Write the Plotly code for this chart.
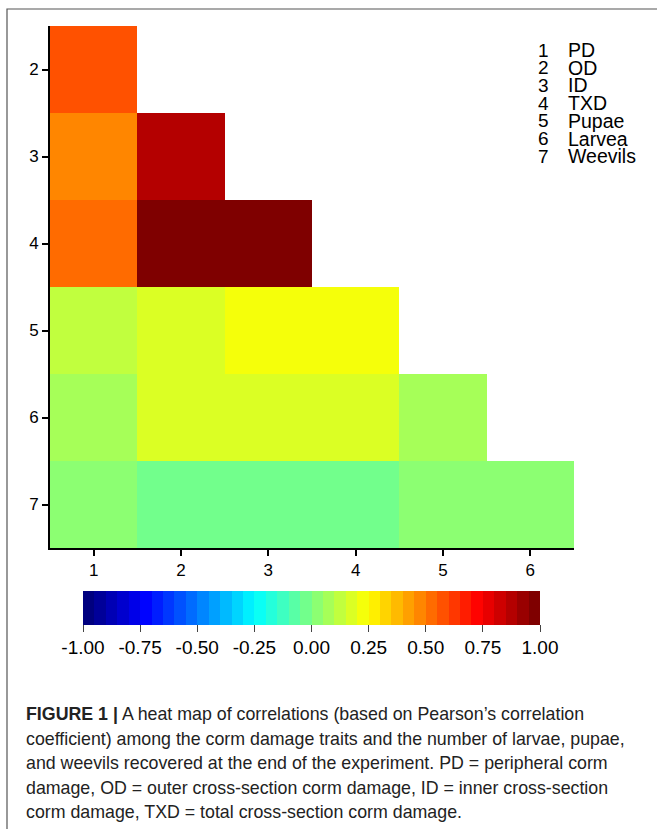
import plotly.graph_objects as go

# ---------------- data ----------------
col_ids = [1, 2, 3, 4, 5, 6]
row_ids = [2, 3, 4, 5, 6, 7]
row2 = [0.57]
row3 = [0.47, 0.87]
row4 = [0.52, 0.97, 0.97]
row5 = [0.12, 0.17, 0.22, 0.22]
row6 = [0.07, 0.17, 0.17, 0.17, 0.07]
row7 = [0.02, -0.03, -0.03, -0.03, 0.02, 0.02]
legend_nums = ["1", "2", "3", "4", "5", "6", "7"]
legend_names = ["PD", "OD", "ID", "TXD", "Pupae", "Larvea", "Weevils"]
cbar_vals = [-1.0, -0.75, -0.5, -0.25, 0.0, 0.25, 0.5, 0.75, 1.0]
cbar_text = ["-1.00", "-0.75", "-0.50", "-0.25", "0.00", "0.25", "0.50", "0.75", "1.00"]
caption_lines = [
    "<b>FIGURE 1 |</b> A heat map of correlations (based on Pearson\u2019s correlation",
    "coefficient) among the corm damage traits and the number of larvae, pupae,",
    "and weevils recovered at the end of the experiment. PD = peripheral corm",
    "damage, OD = outer cross-section corm damage, ID = inner cross-section",
    "corm damage, TXD = total cross-section corm damage.",
]

rows_vals = [row2, row3, row4, row5, row6, row7]
z = [r + [None] * (len(col_ids) - len(r)) for r in rows_vals]

# ---------------- discrete jet colour scale (40 bins) ----------------
anchors = [(0, 0, 127), (0, 0, 255), (0, 127, 255), (0, 255, 255), (127, 255, 127),
           (255, 255, 0), (255, 127, 0), (255, 0, 0), (127, 0, 0)]
NB = 40


def jet(t):
    s = t * (len(anchors) - 1)
    k = min(int(s), len(anchors) - 2)
    f = s - k
    a, b = anchors[k], anchors[k + 1]
    return "rgb(%d,%d,%d)" % tuple(round(a[i] + (b[i] - a[i]) * f) for i in range(3))


cs = []
for i in range(NB):
    c = jet(i / (NB - 1))
    cs.append([i / NB, c])
    cs.append([(i + 1) / NB, c])

# ---------------- layout geometry ----------------
W, H = 657, 829
L, R, T, B = 50, 83, 26, 281
PW, PH = W - L - R, H - T - B
FONT = "Liberation Sans, Arial, Helvetica, sans-serif"


def px(x):
    return (x - L) / PW


def py(y):
    return (H - B - y) / PH


fig = go.Figure()
fig.add_trace(go.Heatmap(
    x=col_ids, y=row_ids, z=z, zmin=-1, zmax=1, colorscale=cs,
    hoverongaps=False,
    colorbar=dict(
        orientation="h", x=px(311.5), xanchor="center", y=py(591), yanchor="top",
        len=457, lenmode="pixels", thickness=34, thicknessmode="pixels",
        xpad=0, ypad=0, outlinewidth=0,
        ticks="outside", ticklen=7, tickwidth=1, tickcolor="#444",
        tickvals=cbar_vals, ticktext=cbar_text,
        tickfont=dict(size=19, color="black", family=FONT),
    ),
))

axis_common = dict(showline=True, linecolor="black", linewidth=2, ticks="outside",
                   ticklen=6, tickwidth=1.5, tickcolor="black", showgrid=False,
                   zeroline=False, tickfont=dict(size=17, color="black", family=FONT))
fig.update_xaxes(range=[0.5, 6.5], tickvals=col_ids, ticktext=[str(c) for c in col_ids], **axis_common)
fig.update_yaxes(range=[7.5, 1.5], tickvals=row_ids, ticktext=[str(r) for r in row_ids], **axis_common)

annotations = []
for i, (n, name) in enumerate(zip(legend_nums, legend_names)):
    yy = py(50 + 17.7 * i)
    annotations.append(dict(x=px(543.5), y=yy, xref="paper", yref="paper", text=n,
                            showarrow=False, xanchor="center", yanchor="middle",
                            font=dict(size=19, color="black", family=FONT)))
    annotations.append(dict(x=px(566), y=yy, xref="paper", yref="paper", text=name,
                            showarrow=False, xanchor="left", yanchor="middle",
                            font=dict(size=19.5, color="black", family=FONT)))
for i, line in enumerate(caption_lines):
    annotations.append(dict(x=px(23.5), y=py(714 + 24.5 * i), xref="paper", yref="paper",
                            text=line, showarrow=False, xanchor="left", yanchor="middle",
                            font=dict(size=17.8, color="#222", family=FONT)))

fig.update_layout(
    width=W, height=H, autosize=False,
    margin=dict(l=L, r=R, t=T, b=B, pad=0),
    paper_bgcolor="white", plot_bgcolor="white",
    annotations=annotations,
    shapes=[dict(type="rect", xref="paper", yref="paper",
                 x0=px(7), x1=px(720), y0=py(9), y1=py(900),
                 line=dict(color="#555", width=1.2), fillcolor="rgba(0,0,0,0)", layer="above")],
    showlegend=False,
)

fig.write_html("out.html")
